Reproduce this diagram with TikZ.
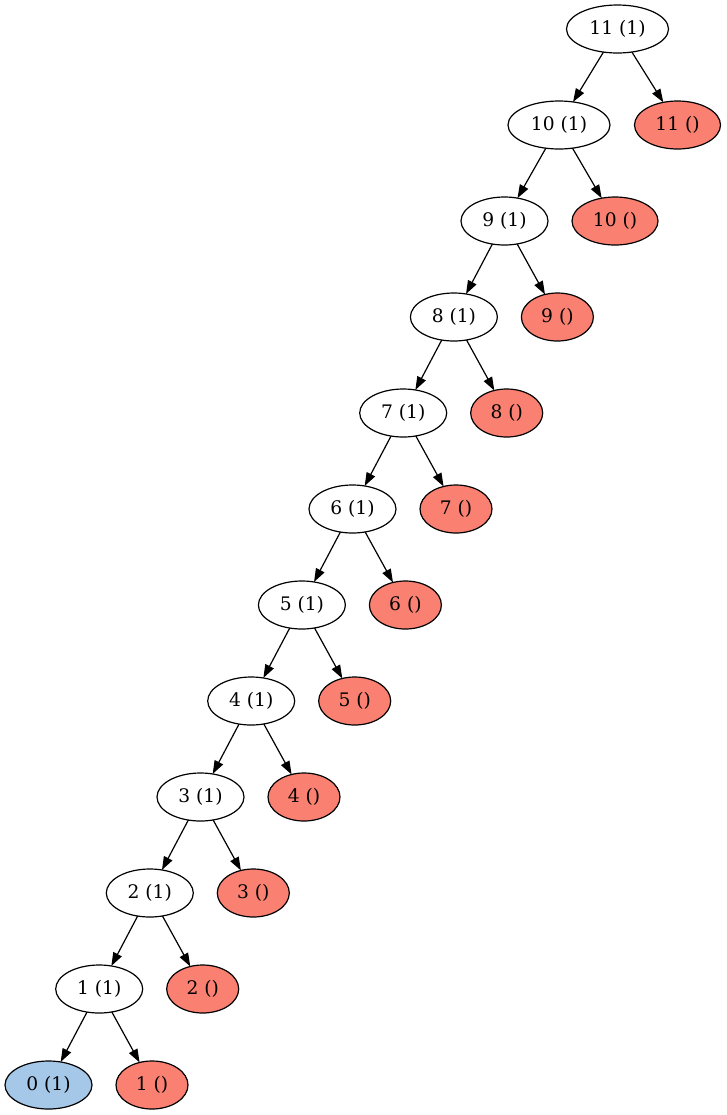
\documentclass[tikz,border=0pt]{standalone}
\usepackage{fontspec}
\setmainfont{DejaVu Serif}
\usetikzlibrary{shapes.geometric,arrows.meta}
\definecolor{salmonfill}{HTML}{FA8072}
\definecolor{bluefill}{HTML}{A6C8E8}
\tikzset{
  base/.style={ellipse,draw=black,line width=0.9pt,inner sep=0pt,outer sep=0pt,
    minimum height=36pt,font=\fontsize{14}{16}\selectfont},
  wone/.style={base,fill=white,minimum width=65.25pt},
  wtwo/.style={base,fill=white,minimum width=76.5pt},
  rone/.style={base,fill=salmonfill,minimum width=54pt},
  rtwo/.style={base,fill=salmonfill,minimum width=64.5pt},
  bone/.style={base,fill=bluefill,minimum width=65.25pt},
  edge/.style={draw=black,line width=0.9pt,-{Triangle[length=10pt,width=7pt]}}
}
\begin{document}
\begin{tikzpicture}[x=0.75pt,y=-0.75pt]
\useasboundingbox (0,0) rectangle (727,1115);
% white chain
\node[wtwo] (w11) at (617.5,29) {11 (1)};
\node[wtwo] (w10) at (559,125) {10 (1)};
\node[wone] (w9) at (504.5,221) {9 (1)};
\node[wone] (w8) at (453.9,317) {8 (1)};
\node[wone] (w7) at (403.2,413) {7 (1)};
\node[wone] (w6) at (352.5,509) {6 (1)};
\node[wone] (w5) at (301.9,605) {5 (1)};
\node[wone] (w4) at (251.2,701) {4 (1)};
\node[wone] (w3) at (200.5,797) {3 (1)};
\node[wone] (w2) at (149.8,893) {2 (1)};
\node[wone] (w1) at (99.2,989) {1 (1)};
\node[bone] (w0) at (48.5,1085) {0 (1)};
% red nodes
\node[rtwo] (r11) at (677.5,125) {11 ()};
\node[rtwo] (r10) at (615,221) {10 ()};
\node[rone] (r9) at (557.4,317) {9 ()};
\node[rone] (r8) at (506.7,413) {8 ()};
\node[rone] (r7) at (456,509) {7 ()};
\node[rone] (r6) at (405.4,605) {6 ()};
\node[rone] (r5) at (354.7,701) {5 ()};
\node[rone] (r4) at (304,797) {4 ()};
\node[rone] (r3) at (253.3,893) {3 ()};
\node[rone] (r2) at (202.7,989) {2 ()};
\node[rone] (r1) at (152,1085) {1 ()};
% edges
\draw[edge] (w11) -- (w10);
\draw[edge] (w11) -- (r11);
\draw[edge] (w10) -- (w9);
\draw[edge] (w10) -- (r10);
\draw[edge] (w9) -- (w8);
\draw[edge] (w9) -- (r9);
\draw[edge] (w8) -- (w7);
\draw[edge] (w8) -- (r8);
\draw[edge] (w7) -- (w6);
\draw[edge] (w7) -- (r7);
\draw[edge] (w6) -- (w5);
\draw[edge] (w6) -- (r6);
\draw[edge] (w5) -- (w4);
\draw[edge] (w5) -- (r5);
\draw[edge] (w4) -- (w3);
\draw[edge] (w4) -- (r4);
\draw[edge] (w3) -- (w2);
\draw[edge] (w3) -- (r3);
\draw[edge] (w2) -- (w1);
\draw[edge] (w2) -- (r2);
\draw[edge] (w1) -- (w0);
\draw[edge] (w1) -- (r1);
\end{tikzpicture}
\end{document}
